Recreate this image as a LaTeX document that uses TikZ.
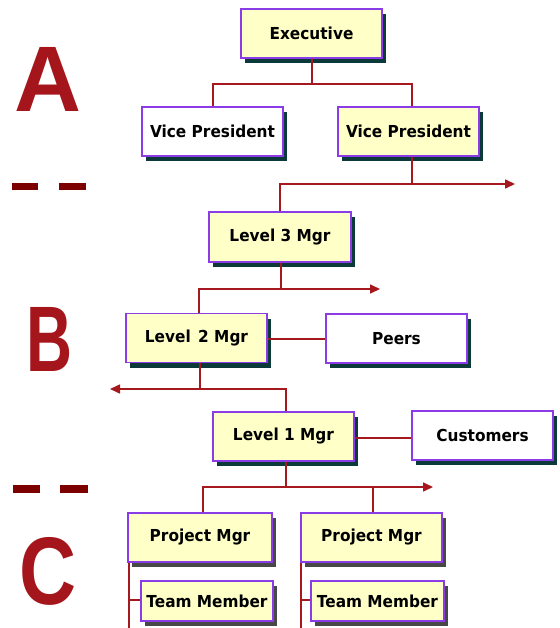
\documentclass[tikz,border=0pt]{standalone}
\usepackage{fontspec}
\usepackage{graphicx}
\newfontfamily\boxfont[FakeStretch=0.93]{DejaVu Sans}
\newfontfamily\bigletterfont{Liberation Sans}
\usetikzlibrary{arrows.meta}
\definecolor{boxyellow}{RGB}{255,255,200}
\definecolor{boxborder}{RGB}{140,60,230}
\definecolor{shadowteal}{RGB}{12,58,58}
\definecolor{shadowgray}{RGB}{72,72,72}
\definecolor{connred}{RGB}{165,25,30}
\definecolor{letterred}{RGB}{165,22,28}
\definecolor{dashred}{RGB}{125,0,0}
\tikzset{
  orgbox/.style={draw=boxborder, line width=1.4pt, fill=boxyellow, rectangle,
    inner sep=0pt, minimum width=141pt, minimum height=49pt,
    font=\boxfont\bfseries\fontsize{16.5}{19}\selectfont, text=black},
  whitebox/.style={orgbox, fill=white},
  tealshadow/.style={preaction={fill=shadowteal, draw=none, transform canvas={shift={(4pt,-5pt)}}}},
  grayshadow/.style={preaction={fill=shadowgray, draw=none, transform canvas={shift={(4pt,-5pt)}}}},
  conn/.style={draw=connred, line width=1.6pt},
  arrowconn/.style={conn, -{Triangle[length=10pt,width=9pt]}},
  bigletter/.style={inner sep=0pt, text=letterred, font=\bigletterfont\bfseries},
  dashbar/.style={fill=dashred, draw=none}
}
\begin{document}
\begin{tikzpicture}[x=1pt, y=-1pt]
\useasboundingbox (0,0) rectangle (559,628);

% big letters
\node[bigletter] (A) at (48,79) {\resizebox{67pt}{64pt}{A}};
\node[bigletter] (B) at (50,339) {\resizebox{46pt}{64pt}{B}};
\node[bigletter] (C) at (48,571.5) {\resizebox{57pt}{67pt}{C}};

% dashes
\fill[dashbar] (12,183) rectangle (38,190);
\fill[dashbar] (59,183) rectangle (86,190);
\fill[dashbar] (13,485) rectangle (40,493);
\fill[dashbar] (60,485) rectangle (88,493);

% boxes
\node[orgbox, tealshadow] (exec) at (311.5,33.5) {Executive};
\node[whitebox, tealshadow] (vp1) at (212.5,131.5) {Vice President};
\node[orgbox, tealshadow] (vp2) at (408.5,131.5) {Vice President};
\node[orgbox, tealshadow, minimum width=142pt, minimum height=50pt] (l3) at (280,237) {Level 3 Mgr};
\node[orgbox, tealshadow] (l2) at (196.5,338) {Level\hspace{0.45em}2 Mgr};
\node[whitebox, tealshadow] (peers) at (396.5,338.5) {Peers};
\node[orgbox, tealshadow] (l1) at (283.5,436.5) {Level 1 Mgr};
\node[whitebox, tealshadow] (cust) at (482.5,435.5) {Customers};
\node[orgbox, grayshadow, minimum width=144pt] (pm1) at (200,537.5) {Project Mgr};
\node[orgbox, grayshadow] (pm2) at (371.5,537.5) {Project Mgr};
\node[orgbox, grayshadow, minimum width=132pt, minimum height=40pt] (tm1) at (207,601) {Team Member};
\node[orgbox, grayshadow, minimum width=133pt, minimum height=40pt] (tm2) at (377.5,601) {Team Member};

% coordinates
\coordinate (j1) at (312,84);
\coordinate (j1a) at (213,84);
\coordinate (j1b) at (412,84);
\coordinate (a1) at (515,184);
\coordinate (b1) at (280,184);
\coordinate (d1) at (412,184);
\coordinate (a2) at (380,289);
\coordinate (b2) at (199,289);
\coordinate (d2) at (281,289);
\coordinate (a3) at (110,389);
\coordinate (b3) at (286,389);
\coordinate (d3) at (200,389);
\coordinate (a4) at (433,487);
\coordinate (b4) at (203,487);
\coordinate (c4) at (373,487);
\coordinate (d4) at (286,487);
\coordinate (e1) at (129,628);
\coordinate (e2) at (301,628);
\coordinate (t1) at (129,600);
\coordinate (t2) at (301,600);
\coordinate (p1) at (0,339);
\coordinate (p2) at (0,438);

% connectors
\draw[conn] (exec.south -| j1) -- (j1);
\draw[conn] (vp1.north -| j1a) -- (j1a) -- (j1b) -- (vp2.north -| j1b);
\draw[conn] (vp2.south -| d1) -- (d1);
\draw[arrowconn] (l3.north -| b1) -- (b1) -- (a1);
\draw[conn] (l3.south -| d2) -- (d2);
\draw[arrowconn] (l2.north -| b2) -- (b2) -- (a2);
\draw[conn] (l2.east |- p1) -- (peers.west |- p1);
\draw[conn] (l2.south -| d3) -- (d3);
\draw[arrowconn] (l1.north -| b3) -- (b3) -- (a3);
\draw[conn] (l1.east |- p2) -- (cust.west |- p2);
\draw[conn] (l1.south -| d4) -- (d4);
\draw[arrowconn] (pm1.north -| b4) -- (b4) -- (a4);
\draw[conn] (c4) -- (pm2.north -| c4);
\draw[conn] (pm1.south -| e1) -- (e1);
\draw[conn] (t1) -- (tm1.west |- t1);
\draw[conn] (pm2.south -| e2) -- (e2);
\draw[conn] (t2) -- (tm2.west |- t2);
\end{tikzpicture}
\end{document}
